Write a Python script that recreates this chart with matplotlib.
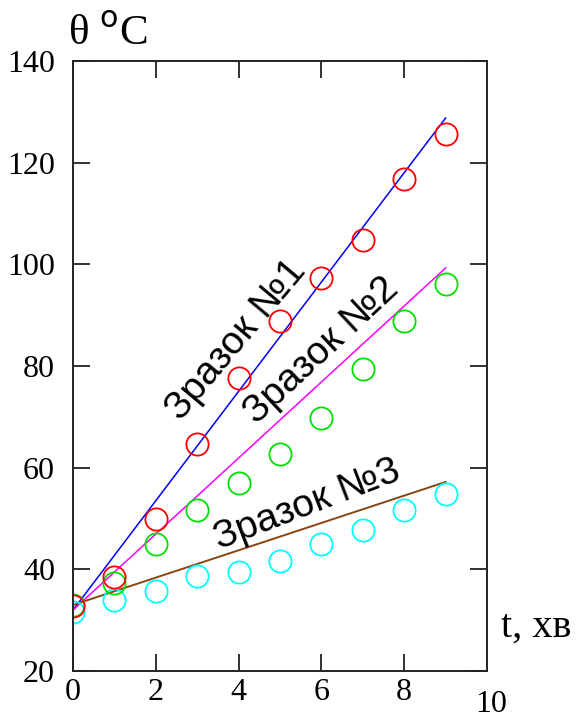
import numpy as np
import matplotlib.pyplot as plt

# measured temperatures, samples 1-3
t = [0, 1, 2, 3, 4, 5, 6, 7, 8, 9]
theta1 = [32.8, 38.5, 50.0, 64.6, 77.7, 88.8, 97.4, 104.7, 116.7, 125.6]
theta2 = [33.0, 37.3, 44.9, 51.6, 56.9, 62.6, 69.8, 79.5, 88.9, 96.1]
theta3 = [31.6, 34.0, 35.7, 38.6, 39.4, 41.6, 44.9, 47.7, 51.6, 54.9]

# fitted lines (end points)
t_fit = [0, 9]
fit1 = [32.0, 128.8]
fit2 = [32.0, 99.3]
fit3 = [33.0, 57.2]

x_ticks = [0, 2, 4, 6, 8]
y_ticks = [20, 40, 60, 80, 100, 120, 140]

fig = plt.figure(figsize=(5.78, 7.2), dpi=100)
ax = fig.add_axes([0.1263, 0.068, 0.7163, 0.8472])

ax.plot(t_fit, fit1, color='blue', lw=1.1)
ax.plot(t_fit, fit2, color='magenta', lw=1.1)
ax.plot(t_fit, fit3, color='#8b4513', lw=1.4)

ms = 16
ax.plot(t, theta3, 'o', mfc='none', mec='cyan', ms=ms, mew=1.3)
ax.plot(t, theta2, 'o', mfc='none', mec='#00e000', ms=ms, mew=1.3)
ax.plot(t, theta1, 'o', mfc='none', mec='red', ms=ms, mew=1.3)

ax.set_xlim(0, 10)
ax.set_ylim(20, 140)
ax.set_xticks(x_ticks)
ax.set_yticks(y_ticks)

serif = 'Liberation Serif'
ax.tick_params(direction='in', length=12.5, width=1.3, top=True, right=True,
               labelsize=23, color='#222222')
ax.tick_params(axis='y', pad=13)
ax.tick_params(axis='x', pad=5)
for lab in ax.get_xticklabels() + ax.get_yticklabels():
    lab.set_fontfamily(serif)
for s in ax.spines.values():
    s.set_linewidth(1.4)
    s.set_color('#222222')

# the "10" label sits lower than the others
ax.annotate('10', xy=(10, 0), xycoords=('data', 'axes fraction'),
            xytext=(3, -14), textcoords='offset points',
            ha='center', va='top', fontsize=23, family=serif)

fig.text(0.118, 0.925, r'θ $^{\mathrm{o}}$C', fontsize=31, family=serif,
         ha='left', va='bottom')
ax.annotate('t, хв', xy=(1, 0), xycoords='axes fraction',
            xytext=(10, 18), textcoords='offset points',
            ha='left', va='bottom', fontsize=29, family=serif)

# labels along the lines
txt = dict(fontsize=28, family='Liberation Sans', ha='center', va='center',
           rotation_mode='anchor')
ax.text(3.94, 85, 'Зразок №1', rotation=50, **txt)
ax.text(6.0, 83, 'Зразок №2', rotation=43, **txt)
ax.text(5.65, 52.7, 'Зразок №3', rotation=21, **txt)

plt.savefig('out.png', dpi=100)
